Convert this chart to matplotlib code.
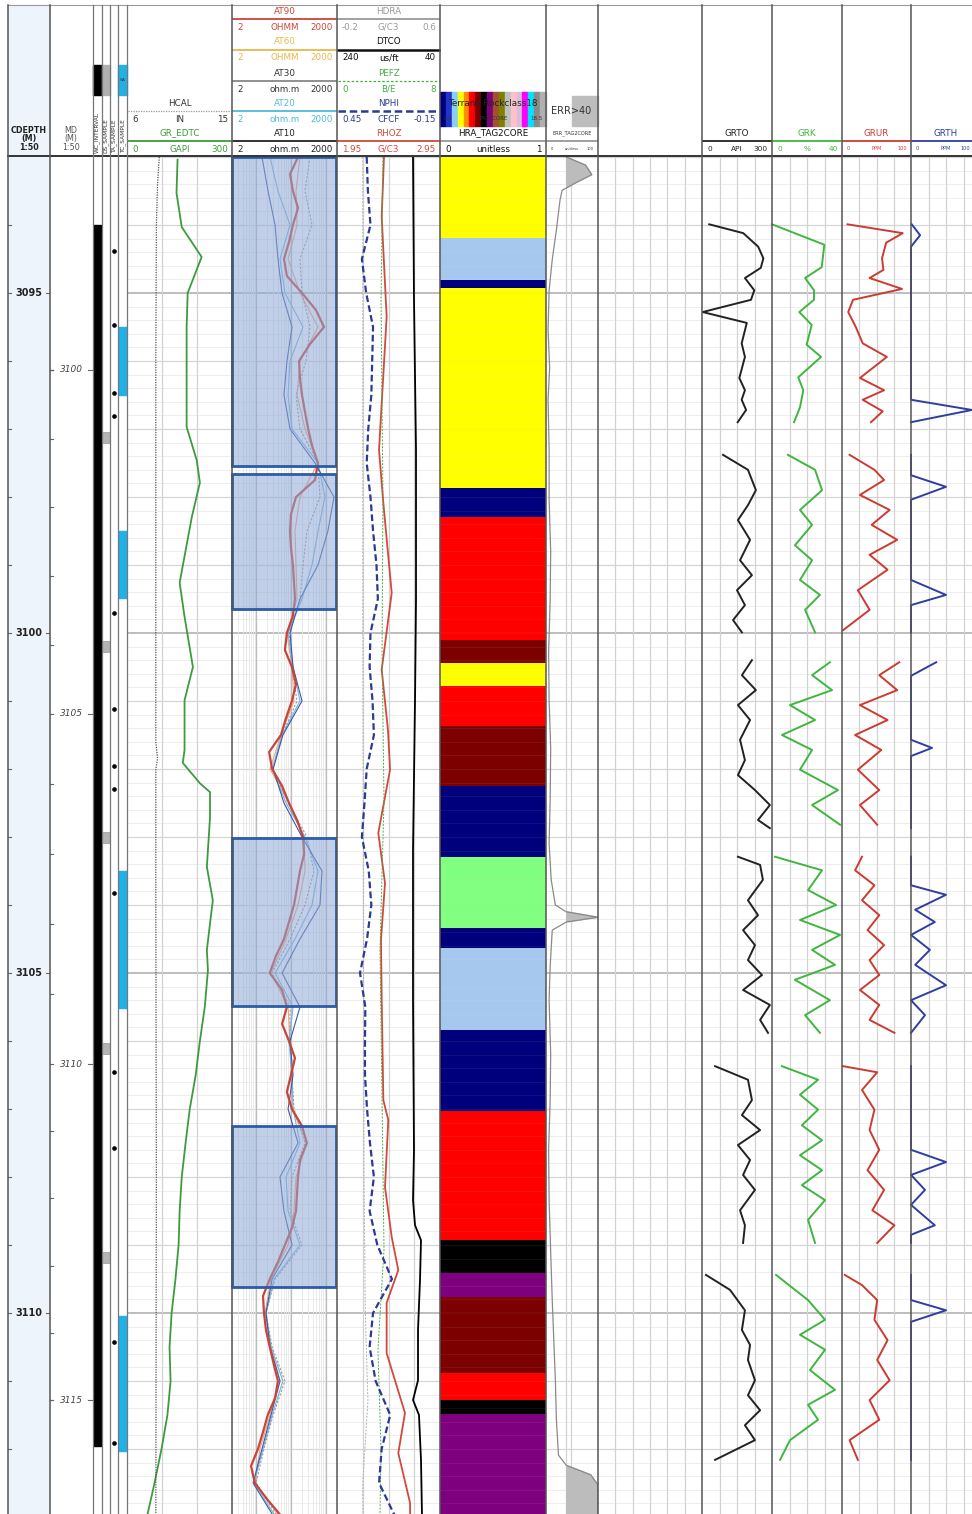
import numpy as np
import matplotlib.pyplot as plt
from matplotlib.patches import Rectangle
from matplotlib.transforms import blended_transform_factory as blend

plt.rcParams['font.family'] = ['DejaVu Sans']

W, H = 972, 1514          # figure size in px
HDR = 157                 # bottom of the header block, px
PXM = 68.0                # px per metre at 1:50
D_TOP = 3093.0
D_BOT = D_TOP + (H - HDR) / PXM
nan = np.nan

# ---------------- depth scales
cdepth_labels = [3095, 3100, 3105, 3110]
md_labels = [3100, 3105, 3110, 3115]
md_label_cdepth = [3096.13, 3101.19, 3106.34, 3111.28]

# ---------------- sample columns
wc_interval = [(3094.00, 3111.95)]
ds_sample = [(3097.04, 3097.20), (3100.12, 3100.28), (3102.93, 3103.09),
             (3106.03, 3106.19), (3109.10, 3109.26)]
ta_sample = [3094.38, 3095.47, 3096.47, 3096.81, 3099.71, 3101.12, 3101.96,
             3102.29, 3103.82, 3106.46, 3107.57, 3110.43, 3111.91]
tc_sample = [(3095.50, 3096.50), (3098.50, 3099.49), (3103.50, 3105.51),
             (3110.04, 3112.03)]

# ---------------- GR / caliper
gr_depth = [3093.04, 3093.53, 3094.03, 3094.47, 3095.00, 3095.50, 3095.99, 3096.97,
            3097.46, 3097.79, 3098.29, 3099.26, 3099.76, 3100.50, 3100.99, 3101.72,
            3101.91, 3102.21, 3102.34, 3102.71, 3103.44, 3103.93, 3104.66, 3104.96,
            3105.50, 3106.00, 3106.50, 3107.00, 3107.50, 3108.00, 3108.50, 3109.00,
            3109.50, 3110.00, 3110.50, 3111.00, 3111.50, 3112.00, 3112.50, 3112.96]
gr_edtc = [144, 141, 156, 213, 173, 170, 170, 170,
           199, 208, 185, 150, 164, 188, 164, 164,
           159, 208, 237, 237, 228, 245, 228, 231,
           222, 208, 196, 179, 167, 156, 150, 147,
           138, 127, 121, 124, 115, 98, 78, 58]
hcal_depth = [3093.0, 3093.4, 3094.0, 3096.0, 3099.0, 3101.6, 3101.85, 3102.0,
              3104.0, 3108.0, 3113.0]
hcal = [8.75, 8.6, 8.5, 8.45, 8.45, 8.45, 8.6, 8.45, 8.45, 8.5, 8.45]

# ---------------- resistivity
at90_depth = [3093.0 + 0.25 * k for k in range(81)]
at90 = [154, 91, 110, 154, 110, 85, 61, 74, 200, 500, 850, 340, 165, 175, 200, 244,
        300, 390, 570, 470, 135, 97, 91, 97, 110, 118, 126, 110, 74, 65, 103, 135,
        103, 70, 50, 23, 28, 54, 85, 144, 214, 230, 175, 144, 118, 85, 61, 36,
        24, 54, 74, 54, 85, 126, 97, 74, 103, 200, 275, 175, 154, 144, 135, 103,
        65, 41, 24, 15.4, 16.4, 18.7, 24, 31, 41, 34, 21, 15.4, 11, 7, 9, 21, 54]
res_depth = [3093.0 + 0.5 * k for k in range(41)]
at60 = [175, 135, 144, 80, 175, 573, 175, 144, 244, 573, 175, 126, 135, 144, 74, 104,
        118, 50, 24.4, 85, 228, 244, 154, 70, 26, 80, 91, 97, 104, 278, 135, 118,
        80, 26, 17.5, 26, 47, 24.4, 12.6, 9.1, 47]
at30 = [339, 244, 386, 175, 200, 339, 260, 135, 175, 573, 654, 278, 214, 175, 85, 104,
        144, 54, 30, 80, 278, 441, 244, 91, 28, 91, 91, 104, 118, 244, 104, 91,
        200, 34, 18.7, 28, 65, 30, 16.4, 9.7, 41]
at20 = [24.4, 41, 91, 47, 65, 214, 91, 80, 104, 573, 908, 573, 386, 200, 80, 111,
        175, 54, 28, 70, 244, 573, 386, 126, 34, 111, 85, 104, 111, 175, 70, 80,
        175, 32, 18.7, 26, 57, 28, 15.4, 8.5, 36]
at10 = [14.4, 21.4, 33.9, 41.2, 53.7, 104, 74.5, 61, 91, 470, 1640, 1100, 573, 175, 91, 111,
        200, 57, 30, 61, 200, 745, 654, 175, 54, 175, 91, 111, 80, 154, 47, 61,
        104, 28, 18.7, 24.4, 47, 26, 14.4, 8, 31.7]
core_top = [3093.00, 3097.66, 3103.01, 3107.25]
core_base = [3097.54, 3099.65, 3105.49, 3109.62]

# ---------------- density / neutron / sonic
nphi_depth = res_depth
nphi = [0.277, 0.27, 0.255, 0.305, 0.28, 0.24, 0.245, 0.25, 0.268, 0.277, 0.255, 0.24,
        0.22, 0.212, 0.255, 0.26, 0.243, 0.235, 0.277, 0.29, 0.305, 0.265, 0.25, 0.275,
        0.316, 0.285, 0.287, 0.287, 0.275, 0.258, 0.235, 0.26, 0.215, 0.13, 0.24, 0.26,
        0.225, 0.14, 0.19, 0.205, 0.11]
rhoz_depth = [3093.0, 3093.88, 3095.35, 3097.31, 3098.09, 3099.41, 3100.54, 3101.43,
              3102.01, 3102.94, 3103.68, 3104.51, 3105.40, 3106.87, 3107.16, 3108.15,
              3108.88, 3109.37, 3109.85, 3110.59, 3111.47, 3112.06, 3112.79, 3112.96]
rhoz = [2.406, 2.384, 2.432, 2.358, 2.40, 2.481, 2.384, 2.445,
        2.465, 2.351, 2.416, 2.377, 2.384, 2.40, 2.448, 2.416,
        2.481, 2.545, 2.432, 2.432, 2.61, 2.545, 2.659, 2.66]
pefz_depth = [3093.0, 3095.1, 3098.04, 3100.25, 3102.46, 3104.66, 3106.87, 3109.07,
              3110.54, 3112.01, 3112.96]
pefz = [3.57, 3.42, 3.57, 3.50, 3.65, 3.34, 3.50, 3.65, 3.18, 3.42, 3.34]
hdra_depth = [3093.0, 3100.0, 3108.0, 3110.0, 3111.3, 3112.5, 3112.96]
hdra = [0.0, 0.0, 0.01, 0.02, 0.04, 0.0, 0.0]
dtco_depth = [3093.0, 3095.10, 3097.31, 3099.51, 3100.99, 3103.19, 3105.40, 3107.60,
              3108.34, 3108.71, 3108.93, 3109.51, 3110.25, 3110.99, 3111.28, 3111.50,
              3112.16, 3112.96]
dtco = [92.4, 90.5, 86.6, 86.6, 88.5, 92.4, 92.4, 90.5,
        92.4, 88.5, 76.9, 78.8, 82.7, 82.7, 92.4, 80.8, 76.9, 75.0]

# ---------------- facies (HRA_TAG2CORE)
facies_top = [3093.00, 3094.19, 3094.81, 3094.93, 3097.87, 3098.29, 3100.10, 3100.44,
              3100.78, 3101.37, 3102.25, 3103.29, 3104.34, 3104.63, 3105.84, 3107.03,
              3108.93, 3109.41, 3109.76, 3110.88, 3111.28, 3111.49]
facies_class = ['yellow', 'lightblue', 'navy', 'yellow', 'navy', 'red', 'darkred', 'yellow',
                'red', 'darkred', 'navy', 'green', 'navy', 'lightblue', 'navy', 'red',
                'black', 'purple', 'darkred', 'red', 'black', 'purple']
facies_colors = {'yellow': '#ffff00', 'lightblue': '#a6c8ef', 'navy': '#00007d',
                 'red': '#ff0000', 'darkred': '#7d0000', 'green': '#80ff80',
                 'black': '#000000', 'purple': '#7f007f'}
rockclass_colors = ['#00007d', '#2233cc', '#87cefa', '#ffff00', '#ff8c00', '#ff0000',
                    '#7d0000', '#000000', '#7f007f', '#a0522d', '#808000', '#c0c0c0',
                    '#ffc0cb', '#d8bfd8', '#ff00ff', '#00e5ff', '#8a8a8a', '#b0b0b0']

# ---------------- tag-to-core error
err_depth = [3093.00, 3093.12, 3093.26, 3093.38, 3093.49, 3093.63, 3094.07, 3094.51,
             3094.96, 3095.54, 3096.10, 3096.57, 3097.30, 3098.04, 3098.80, 3099.51,
             3100.30, 3100.99, 3101.70, 3102.46, 3103.10, 3103.63, 3104.00, 3104.10,
             3104.18, 3104.25, 3104.37, 3104.90, 3105.40, 3106.20, 3106.87, 3107.60,
             3108.34, 3109.10, 3109.81, 3110.40, 3110.99, 3111.57, 3112.09, 3112.24,
             3112.38, 3112.53, 3112.96]
err = [39, 76, 88, 57, 31, 27, 20, 12,
       6, 4, 7, 4, 6, 6, 9, 8,
       5, 6, 9, 8, 6, 10, 18, 39,
       100, 39, 12, 8, 6, 9, 8, 5,
       6, 9, 12, 15, 18, 20, 24, 39,
       86, 100, 100]

# ---------------- core spectral gamma (segments split by nan)
grto_depth = [3093.99, 3094.12, 3094.32, 3094.49, 3094.63, 3094.78, 3094.96, 3095.10, 3095.28,
              3095.44, 3095.74, 3095.94, 3096.25, 3096.43, 3096.57, 3096.72, 3096.90, nan,
              3097.38, 3097.60, 3097.90, 3098.12, 3098.34, 3098.63, 3098.93, 3099.15, 3099.37,
              3099.59, 3099.81, 3099.99, nan,
              3100.40, 3100.62, 3100.84, 3101.06, 3101.28, 3101.57, 3101.87, 3102.09, 3102.31,
              3102.53, 3102.75, 3102.87, nan,
              3103.29, 3103.41, 3103.63, 3103.93, 3104.15, 3104.37, 3104.59, 3104.81, 3105.03,
              3105.25, 3105.47, 3105.69, 3105.88, nan,
              3106.37, 3106.57, 3106.87, 3107.09, 3107.31, 3107.53, 3107.75, 3107.97, 3108.19,
              3108.49, 3108.71, 3108.97, nan,
              3109.44, 3109.66, 3109.96, 3110.25, 3110.47, 3110.69, 3110.99, 3111.21, 3111.43,
              3111.65, 3111.87, 3112.16]
grto = [31, 177, 241, 263, 252, 184, 224, 210, 3, 192, 170, 184, 160, 184, 170, 189, 153, nan,
        90, 197, 231, 197, 154, 206, 163, 214, 150, 184, 133, 171, nan,
        214, 171, 231, 154, 206, 163, 184, 154, 227, 291, 240, 291, nan,
        154, 249, 261, 197, 240, 176, 227, 197, 257, 176, 291, 249, 283, nan,
        56, 197, 214, 171, 249, 154, 206, 176, 227, 163, 184, 176, nan,
        17, 120, 184, 171, 206, 197, 227, 197, 249, 184, 227, 56]
grk_depth = [3093.99, 3094.29, 3094.62, 3094.78, 3094.96, 3095.10, 3095.28, 3095.47, 3095.76,
             3095.94, 3096.24, 3096.43, 3096.68, 3096.90, nan,
             3097.38, 3097.60, 3097.90, 3098.19, 3098.41, 3098.71, 3098.93, 3099.22, 3099.44,
             3099.66, 3099.99, nan,
             3100.43, 3100.62, 3100.84, 3101.06, 3101.28, 3101.50, 3101.72, 3102.01, 3102.31,
             3102.53, 3102.82, nan,
             3103.29, 3103.49, 3103.78, 3104.00, 3104.22, 3104.44, 3104.66, 3104.88, 3105.10,
             3105.40, 3105.62, 3105.88, nan,
             3106.37, 3106.57, 3106.79, 3107.01, 3107.24, 3107.46, 3107.68, 3107.90, 3108.12,
             3108.34, 3108.63, 3108.97, nan,
             3109.44, 3109.81, 3110.10, 3110.32, 3110.54, 3110.84, 3111.13, 3111.35, 3111.57,
             3111.87, 3112.16]
grk = [0, 29.9, 28.4, 18.9, 24, 24, 15.6, 22.7, 19.8, 28, 15, 17.9, 16, 12.6, nan,
       9.1, 24.6, 28.6, 16, 22.9, 13.1, 22.9, 16, 27.4, 18.9, 24.6, nan,
       33.1, 22.9, 34.3, 10.3, 24.6, 5.7, 22.9, 16, 37.7, 22.9, 38.9, nan,
       1.7, 28.6, 20.6, 36.6, 16, 38.9, 22.9, 36, 13.1, 33.1, 18.9, 27.4, nan,
       5.7, 26.3, 16, 26.3, 17.1, 28.6, 16, 28.6, 17.1, 30.3, 20.6, 24.6, nan,
       2.3, 20.6, 30.3, 16, 30.3, 21.7, 36, 20.6, 26.3, 10.3, 4.6]
grur_depth = [3093.99, 3094.12, 3094.26, 3094.49, 3094.66, 3094.78, 3094.94, 3095.10, 3095.28,
              3095.50, 3095.74, 3095.94, 3096.25, 3096.43, 3096.57, 3096.74, 3096.90, nan,
              3097.38, 3097.60, 3097.75, 3097.97, 3098.19, 3098.41, 3098.63, 3098.85, 3099.07,
              3099.37, 3099.66, 3099.96, nan,
              3100.43, 3100.62, 3100.84, 3101.06, 3101.28, 3101.50, 3101.72, 3102.01, 3102.31,
              3102.53, 3102.82, nan,
              3103.29, 3103.49, 3103.71, 3103.93, 3104.15, 3104.37, 3104.59, 3104.81, 3105.03,
              3105.25, 3105.47, 3105.69, 3105.88, nan,
              3106.37, 3106.46, 3106.72, 3107.01, 3107.31, 3107.60, 3107.90, 3108.19, 3108.49,
              3108.71, 3108.97, nan,
              3109.44, 3109.59, 3109.81, 3110.10, 3110.40, 3110.69, 3110.99, 3111.28, 3111.57,
              3111.87, 3112.16]
grur = [8, 88, 64, 58, 60, 40, 87, 16, 9, 20, 30, 65, 26, 61, 30, 59, 42, nan,
        11, 47, 61, 26, 69, 43, 80, 40, 66, 23, 40, 1.4, nan,
        83, 54, 80, 26, 66, 19, 57, 23, 54, 26, 51, nan,
        29, 19, 47, 29, 54, 37, 61, 40, 54, 26, 54, 40, 76, nan,
        1.4, 51, 29, 47, 40, 54, 37, 61, 44, 76, 51, nan,
        4, 29, 51, 47, 66, 51, 69, 40, 54, 11, 23]
grth_depth = [3093.99, 3094.15, 3094.32, 3096.57, 3096.72, 3096.90, nan,
              3097.38, 3097.68, 3097.85, 3098.04, 3099.22, 3099.44, 3099.59, 3099.99, nan,
              3100.43, 3100.63, 3101.57, 3101.69, 3101.81, 3102.87, nan,
              3103.29, 3103.71, 3103.85, 3104.07, 3104.25, 3104.44, 3104.66, 3104.88, 3105.18,
              3105.40, 3105.62, 3105.88, nan,
              3106.37, 3107.60, 3107.78, 3107.97, 3108.19, 3108.41, 3108.71, 3108.85, 3108.97, nan,
              3109.44, 3109.81, 3109.96, 3110.13, 3112.16]
grth = [1, 13, 0, 0, 87, 0, nan,
        0, 0, 50, 0, 0, 50, 0, 0, nan,
        36, 0, 0, 30, 0, 0, nan,
        0, 0, 50, 6, 34, 0, 27, 6, 50, 0, 20, 0, nan,
        0, 0, 50, 0, 20, 0, 34, 0, 0, nan,
        0, 0, 50, 0, 0]

fig = plt.figure(figsize=(W / 100, H / 100), dpi=100)


def track(x0, x1, xlim=(0, 1), log=False, face='white'):
    ax = fig.add_axes([x0 / W, 0, (x1 - x0) / W, (H - HDR) / H], facecolor=face)
    if log:
        ax.set_xscale('log')
    ax.set_xlim(*xlim)
    ax.set_ylim(D_BOT, D_TOP)
    ax.tick_params(which='both', left=False, bottom=False,
                   labelleft=False, labelbottom=False)
    for s in ax.spines.values():
        s.set_visible(False)
    return ax


def hgrid(ax, alpha=1.0, z=0.5):
    for d in np.arange(D_TOP, 3113.01, 0.2):
        d = round(d, 1)
        if abs(d / 5 - round(d / 5)) < 1e-6:
            c, lw = '#ababab', 1.1
        elif abs(d - round(d)) < 1e-6:
            c, lw = '#d6d6d6', 0.9
        else:
            c, lw = '#ebebeb', 0.6
        ax.axhline(d, color=c, lw=lw, alpha=alpha, zorder=z)


def vgrid(ax, fracs, color='#d2d2d2', lw=0.9):
    tr = blend(ax.transAxes, ax.transAxes)
    for f in fracs:
        ax.plot([f, f], [0, 1], color=color, lw=lw, transform=tr, zorder=0.6)


# ---------------- depth columns
ax_cd = track(8, 50, face='#eef4fb')
tr = blend(ax_cd.transAxes, ax_cd.transData)
for d in range(3093, 3114):
    ax_cd.plot([0, 0.07], [d, d], color='#666', lw=0.8, transform=tr)
for d in cdepth_labels:
    ax_cd.text(0.5, d, str(d), transform=tr, ha='center', va='center',
               fontsize=7, fontweight='bold', color='#222')
    ax_cd.plot([0.9, 1.0], [d, d], color='#666', lw=0.8, transform=tr)

ax_md = track(50, 92.7)
tr = blend(ax_md.transAxes, ax_md.transData)
md_ticks = np.interp(np.arange(3097, 3117), md_labels, md_label_cdepth)
for d in md_ticks:
    ax_md.plot([0, 0.07], [d, d], color='#666', lw=0.8, transform=tr)
for m, d in zip(md_labels, md_label_cdepth):
    ax_md.text(0.5, d, str(m), transform=tr, ha='center', va='center',
               fontsize=6.5, style='italic', color='#444')
    ax_md.plot([0.9, 1.0], [d, d], color='#666', lw=0.8, transform=tr)

# ---------------- sample columns
ax_wc = track(92.7, 101.7)
for t, b in wc_interval:
    ax_wc.axhspan(t, b, color='black')
ax_ds = track(101.7, 110)
for t, b in ds_sample:
    ax_ds.axhspan(t, b, xmin=0.05, xmax=0.95, color='#b4b4b4', ec='#999', lw=0.5)
ax_ta = track(110, 118.3)
ax_ta.plot([0.45] * len(ta_sample), ta_sample, 'o', color='black', ms=2.3)
ax_tc = track(118.3, 127.3)
for t, b in tc_sample:
    ax_tc.axhspan(t, b, color='#1fb1ea')

# ---------------- GR track
ax_gr = track(127.3, 232, (0, 300))
hgrid(ax_gr)
vgrid(ax_gr, [1 / 3, 2 / 3])
ax_gr.plot(gr_edtc, gr_depth, color='#3c9c3c', lw=1.3, zorder=3)
ax_hc = ax_gr.twiny()
ax_hc.set_xlim(6, 15)
ax_hc.axis('off')
ax_hc.plot(hcal, hcal_depth, color='#555', lw=0.9, ls=(0, (1, 1)))

# ---------------- resistivity track
ax_res = track(232, 337, (2, 2000), log=True)
hgrid(ax_res)
minor = [v for base in (1, 10, 100, 1000) for v in np.arange(2, 10) * base if 2 <= v <= 2000]
for v in minor:
    ax_res.axvline(v, color='#e6e6e6', lw=0.6, zorder=0.6)
for v in (10, 100, 1000):
    ax_res.axvline(v, color='#bcbcbc', lw=0.9, zorder=0.6)
ax_res.plot(at60, res_depth, color='#f0a27e', lw=0.8, zorder=3)
ax_res.plot(at30, res_depth, color='#9a9a9a', lw=0.8, ls=(0, (2, 1.5)), zorder=3)
ax_res.plot(at20, res_depth, color='#76b3e0', lw=0.8, zorder=3)
ax_res.plot(at10, res_depth, color='#3c5aa8', lw=0.8, zorder=3)
ax_res.plot(at90, at90_depth, color='#c8453a', lw=1.6, zorder=4)
tr = blend(ax_res.transAxes, ax_res.transData)
for t, b in zip(core_top, core_base):
    ax_res.add_patch(Rectangle((0.0, t), 0.99, b - t, transform=tr, facecolor='#8eaad6',
                               alpha=0.55, edgecolor='none', zorder=5, clip_on=False))
    ax_res.add_patch(Rectangle((0.0, t), 0.99, b - t, transform=tr, facecolor='none',
                               edgecolor='#2c5ca6', lw=2.0, zorder=6, clip_on=False))

# ---------------- density / neutron track
ax_den = track(337, 440, (1.95, 2.95))
hgrid(ax_den)
vgrid(ax_den, [0.25, 0.5, 0.75])
ax_hd = ax_den.twiny(); ax_hd.set_xlim(-0.2, 0.6); ax_hd.axis('off')
ax_hd.plot(hdra, hdra_depth, color='#b0b0b0', lw=0.7, ls=(0, (2, 1.5)))
ax_dt = ax_den.twiny(); ax_dt.set_xlim(240, 40); ax_dt.axis('off')
ax_dt.plot(dtco, dtco_depth, color='black', lw=1.3)
ax_pe = ax_den.twiny(); ax_pe.set_xlim(0, 8); ax_pe.axis('off')
ax_pe.plot(pefz, pefz_depth, color='#45b045', lw=0.7, ls=(0, (2, 1.5)))
ax_nu = ax_den.twiny(); ax_nu.set_xlim(0.45, -0.15); ax_nu.axis('off')
ax_nu.plot(nphi, nphi_depth, color='#2b3a92', lw=1.6, ls=(0, (3, 1.5)))
ax_den.plot(rhoz, rhoz_depth, color='#cf4a3c', lw=1.3, zorder=4)

# ---------------- facies track
ax_fac = track(440, 546)
bounds = facies_top + [D_BOT]
for i, cls in enumerate(facies_class):
    ax_fac.axhspan(bounds[i], bounds[i + 1], color=facies_colors[cls], lw=0)
hgrid(ax_fac, alpha=0.08, z=2)

# ---------------- error track
ax_err = track(546, 598, (0, 100))
hgrid(ax_err)
vgrid(ax_err, [0.39, 0.49])
err_a = np.array(err, dtype=float)
ax_err.fill_betweenx(err_depth, 40, err_a, where=err_a > 40, interpolate=True,
                     color='#bcbcbc', zorder=2)
ax_err.plot(err, err_depth, color='#8a8a8a', lw=0.9, zorder=3)

# ---------------- empty track
ax_emp = track(598, 702)
hgrid(ax_emp)
vgrid(ax_emp, [1 / 6, 2 / 6, 3 / 6, 4 / 6, 5 / 6])

# ---------------- core gamma tracks
for x0, x1, xl, xs, ys, col in [(702, 772, (0, 300), grto, grto_depth, '#222222'),
                                (772, 842, (0, 40), grk, grk_depth, '#3fb63f'),
                                (842, 911, (0, 100), grur, grur_depth, '#cc3b32'),
                                (911, 981, (0, 100), grth, grth_depth, '#2f3ea0')]:
    ax = track(x0, x1, xl)
    hgrid(ax)
    vgrid(ax, [0.25, 0.5, 0.75])
    ax.plot(xs, ys, color=col, lw=1.4, zorder=3, clip_on=False)

# ---------------- header and borders
ov = fig.add_axes([0, 0, 1, 1], zorder=10)
ov.set_xlim(0, W)
ov.set_ylim(H, 0)
ov.axis('off')
ov.patch.set_alpha(0)

ov.add_patch(Rectangle((8, 5), 42, HDR - 5, color='#eef4fb', zorder=0))
ov.text(29, 139, 'CDEPTH\n(M)\n1:50', ha='center', va='center', fontsize=5.8,
        fontweight='bold', color='#222', linespacing=0.95)
ov.text(71, 139, 'MD\n(M)\n1:50', ha='center', va='center', fontsize=5.8,
        color='#555', linespacing=0.95)

# sample column headers
ov.add_patch(Rectangle((92.7, 65), 9, 30, color='black'))
ov.add_patch(Rectangle((101.7, 65), 8.3, 30, color='#b0b0b0'))
ov.add_patch(Rectangle((118.3, 65), 9, 30, color='#1fb1ea'))
ov.text(122.8, 80, 'SA', ha='center', va='center', fontsize=3.2, color='#333')
for xc, lab in [(97.2, 'WC_INTERVAL'), (105.9, 'DS_SAMPLE'), (114.2, 'TA_SAMPLE'),
                (122.8, 'TC_SAMPLE')]:
    ov.text(xc, 153, lab, rotation=90, ha='center', va='bottom', fontsize=4.2, color='#333')


def curve_head(x0, x1, y, name, lo, unit, hi, color, ls='-', lw=1.3, fs=6.3, sfs=6.3,
               tcolor=None, x1_text=None):
    tcolor = tcolor or color
    xc = (x0 + x1) / 2
    ov.text(xc, y, name, color=tcolor, ha='center', va='center', fontsize=fs)
    ov.plot([x0 + 1, x1 - 1], [y + 7.5, y + 7.5], color=color, ls=ls, lw=lw)
    ov.text(x0 + 5, y + 16, lo, color=tcolor, ha='left', va='center', fontsize=sfs)
    ov.text(xc, y + 16, unit, color=tcolor, ha='center', va='center', fontsize=sfs)
    ov.text(x1_text or (x1 - 4), y + 16, hi, color=tcolor, ha='right', va='center',
            fontsize=sfs)


# GR track
curve_head(127.3, 232, 103, 'HCAL', '6', 'IN', '15', '#999', ls=(0, (1, 1)), lw=0.9,
           tcolor='#333')
curve_head(127.3, 232, 133, 'GR_EDTC', '0', 'GAPI', '300', '#3c9c3c')
# resistivity
curve_head(232, 337, 11, 'AT90', '2', 'OHMM', '2000', '#c8453a')
curve_head(232, 337, 42, 'AT60', '2', 'OHMM', '2000', '#e8b64c')
curve_head(232, 337, 73, 'AT30', '2', 'ohm.m', '2000', '#888', tcolor='#333')
curve_head(232, 337, 103, 'AT20', '2', 'ohm.m', '2000', '#4fbad8')
curve_head(232, 337, 133, 'AT10', '2', 'ohm.m', '2000', '#222')
# density
curve_head(337, 440, 11, 'HDRA', '-0.2', 'G/C3', '0.6', '#9a9a9a')
curve_head(337, 440, 42, 'DTCO', '240', 'us/ft', '40', '#111', lw=1.8)
curve_head(337, 440, 73, 'PEFZ', '0', 'B/E', '8', '#45b045', ls=(0, (2, 1.5)), lw=0.9)
curve_head(337, 440, 103, 'NPHI', '0.45', 'CFCF', '-0.15', '#2b3a92', ls=(0, (3, 1.5)),
           lw=1.8)
curve_head(337, 440, 133, 'RHOZ', '1.95', 'G/C3', '2.95', '#cf4a3c')
# facies
step = 106 / len(rockclass_colors)
for i, c in enumerate(rockclass_colors):
    ov.add_patch(Rectangle((440 + i * step, 92), step, 34, color=c, zorder=1))
ov.text(493, 103, 'Terrane Rockclass18', ha='center', va='center', fontsize=6.3,
        color='#222', zorder=2)
ov.text(444, 118, '0.5', ha='left', va='center', fontsize=4, color='#333', zorder=2)
ov.text(493, 118, 'TAG2CORE', ha='center', va='center', fontsize=4, color='#333', zorder=2)
ov.text(543, 118, '18.5', ha='right', va='center', fontsize=4, color='#333', zorder=2)
curve_head(440, 546, 133, 'HRA_TAG2CORE', '0', 'unitless', '1', '#999', tcolor='#111')
# error track
ov.add_patch(Rectangle((572, 96), 26, 30, color='#bdbdbd', zorder=1))
ov.text(571, 111, 'ERR>40', ha='center', va='center', fontsize=7, color='#333', zorder=2)
curve_head(546, 598, 133, 'ERR_TAG2CORE', '0', 'unitless', '100', '#999', fs=3.6,
           sfs=2.6, tcolor='#333')
# core gamma
curve_head(702, 772, 133, 'GRTO', '0', 'API', '300', '#222', sfs=5.3)
curve_head(772, 842, 133, 'GRK', '0', '%', '40', '#3fb63f', sfs=5.3)
curve_head(842, 911, 133, 'GRUR', '0', 'PPM', '100', '#cc3b32', sfs=3.6)
curve_head(911, 981, 133, 'GRTH', '0', 'PPM', '100', '#2f3ea0', sfs=3.6, x1_text=970)

# borders
ov.plot([8, W], [5, 5], color='#9a9a9a', lw=0.8)
ov.plot([8, W], [HDR - 1, HDR - 1], color='#333', lw=1.4)
for x in [8, 50, 232, 337, 440, 546, 598, 702, 772, 842, 911]:
    ov.plot([x, x], [5, H], color='#555', lw=1.1)
for x in [92.7, 101.7, 110, 118.3, 127.3]:
    ov.plot([x, x], [5, H], color='#777', lw=0.9)

fig.savefig('out.png', dpi=100)
